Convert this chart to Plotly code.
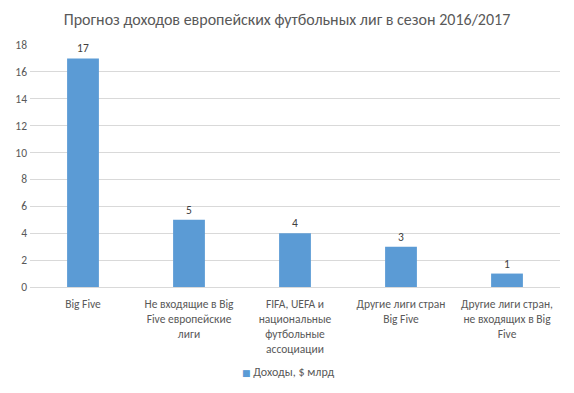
import plotly.graph_objects as go

categories = [
    "Big Five",
    "Не входящие в Big<br>Five европейские<br>лиги",
    "FIFA, UEFA и<br>национальные<br>футбольные<br>ассоциации",
    "Другие лиги стран<br>Big Five",
    "Другие лиги стран,<br>не входящих в Big<br>Five",
]
values = [17, 5, 4, 3, 1]
series_name = "Доходы, $ млрд"
title = "Прогноз доходов европейских футбольных лиг в сезон 2016/2017"

FONT = "Carlito, Lato, Open Sans, sans-serif"
BLUE = "#5b9bd5"

fig = go.Figure()
fig.add_trace(go.Bar(
    x=categories, y=values, name=series_name,
    marker=dict(color=BLUE, line=dict(width=0)),
    width=0.3,
    text=[str(v) for v in values], textposition="outside",
    textfont=dict(size=11.5, color="#404040"),
    cliponaxis=False, showlegend=False,
))
# legend entry: small square drawn as a glyph right next to the text
fig.add_trace(go.Scatter(
    x=[None], y=[None], mode="markers",
    name="<span style='color:%s;font-family:DejaVu Sans;font-size:9px'>■</span> %s" % (BLUE, series_name),
    marker=dict(symbol="square", size=1, color="rgba(0,0,0,0)"), showlegend=True,
))
fig.update_layout(
    width=574, height=393,
    paper_bgcolor="white", plot_bgcolor="white",
    font=dict(family=FONT, size=11.5, color="#595959"),
    title=dict(text=title, x=0.5, xanchor="center", y=0.95, yanchor="middle",
               font=dict(size=16, color="#595959")),
    margin=dict(l=30, r=14, t=45, b=106, autoexpand=False),
    showlegend=True,
    legend=dict(orientation="h", x=(202 - 30) / 530, xanchor="left", y=-0.35, yanchor="middle",
                font=dict(size=12, color="#595959"), itemwidth=30),
    bargap=0.7,
)
fig.update_xaxes(showgrid=False, showline=True, linecolor="#d9d9d9", ticks="",
                 tickfont=dict(size=11.5, color="#595959"), tickangle=0,
                 automargin=False, ticklabelstandoff=6)
fig.update_yaxes(range=[0, 18], dtick=2, showgrid=True, gridcolor="#d9d9d9",
                 zeroline=False, showline=False, ticks="", automargin=False,
                 tickfont=dict(size=11.5, color="#595959"), ticklabelstandoff=2)
fig.write_html("out.html", post_script="document.body.style.margin='0';",
               config={"displayModeBar": False})
